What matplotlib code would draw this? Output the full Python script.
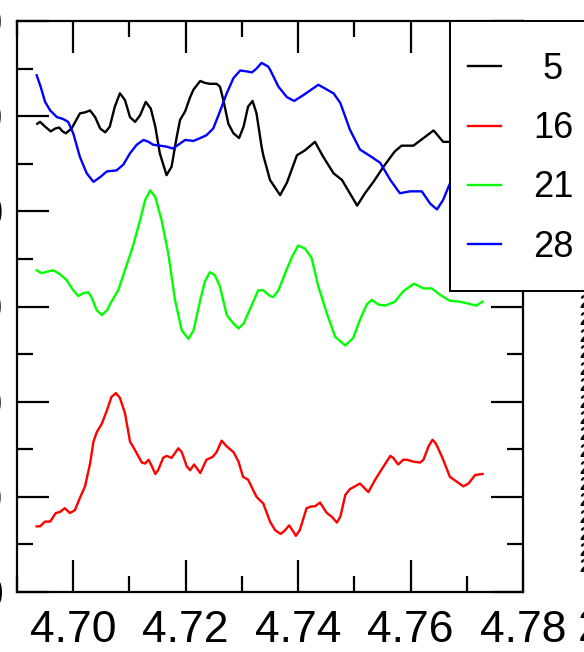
import numpy as np
import matplotlib
matplotlib.use("Agg")
import matplotlib.pyplot as plt
from matplotlib.ticker import MultipleLocator
from matplotlib.patches import Rectangle

plt.rcParams["font.family"] = ["Liberation Sans", "DejaVu Sans"]

# series 5 (black)
x5 = [4.6936, 4.6941, 4.6950, 4.6960, 4.6968, 4.6975, 4.6981, 4.6987, 4.6997, 4.7012,
      4.7021, 4.7030, 4.7039, 4.7048, 4.7057, 4.7065, 4.7074, 4.7083, 4.7092, 4.7101,
      4.7110, 4.7119, 4.7129, 4.7138, 4.7146, 4.7154, 4.7166, 4.7175, 4.7184, 4.7190,
      4.7199, 4.7208, 4.7214, 4.7226, 4.7234, 4.7243, 4.7255, 4.7261, 4.7267, 4.7276,
      4.7285, 4.7295, 4.7303, 4.7311, 4.7319, 4.7326, 4.7335, 4.7338, 4.7350, 4.7368,
      4.7380, 4.7398, 4.7412, 4.7430, 4.7445, 4.7463, 4.7478, 4.7492, 4.7505, 4.7519,
      4.7534, 4.7552, 4.7572, 4.7584, 4.7605, 4.7623, 4.7641, 4.7658, 4.7669, 4.7688,
      4.7709, 4.7729]
y5 = [49.2, 49.4, 48.9, 48.4, 48.7, 48.8, 48.4, 48.2, 48.7, 50.3,
      50.4, 50.6, 49.9, 48.7, 48.3, 48.9, 51.0, 52.4, 51.7, 49.9,
      49.4, 50.1, 51.5, 50.8, 48.9, 46.1, 43.8, 44.7, 47.8, 49.6,
      50.5, 52.0, 52.8, 53.7, 53.5, 53.4, 53.4, 53.1, 51.7, 49.2,
      48.2, 47.7, 48.9, 51.0, 51.6, 50.3, 46.8, 45.9, 43.3, 41.7,
      43.0, 45.9, 46.4, 47.3, 45.7, 44.0, 43.3, 41.9, 40.6, 41.9,
      43.1, 44.7, 46.3, 46.9, 46.9, 47.7, 48.5, 47.3, 47.3, 47.0,
      47.8, 47.4]

# series 16 (red)
x16 = [4.6935, 4.6941, 4.6950, 4.6959, 4.6969, 4.6976, 4.6985, 4.6994, 4.7003, 4.7012,
       4.7021, 4.7030, 4.7036, 4.7042, 4.7051, 4.7060, 4.7068, 4.7076, 4.7083, 4.7092,
       4.7101, 4.7110, 4.7122, 4.7128, 4.7134, 4.7140, 4.7146, 4.7151, 4.7160, 4.7166,
       4.7175, 4.7187, 4.7193, 4.7202, 4.7208, 4.7215, 4.7226, 4.7237, 4.7248, 4.7255,
       4.7264, 4.7273, 4.7285, 4.7294, 4.7302, 4.7311, 4.7326, 4.7338, 4.7350, 4.7359,
       4.7369, 4.7377, 4.7384, 4.7392, 4.7396, 4.7403, 4.7415, 4.7424, 4.7430, 4.7439,
       4.7451, 4.7460, 4.7469, 4.7475, 4.7484, 4.7492, 4.7501, 4.7510, 4.7525, 4.7537,
       4.7552, 4.7564, 4.7569, 4.7578, 4.7587, 4.7593, 4.7605, 4.7617, 4.7623, 4.7632,
       4.7639, 4.7645, 4.7656, 4.7670, 4.7682, 4.7694, 4.7703, 4.7715, 4.7728]
y16 = [6.9, 6.9, 7.4, 7.4, 8.3, 8.4, 8.8, 8.3, 8.6, 9.9,
       11.1, 13.5, 15.8, 16.8, 17.7, 19.1, 20.5, 20.9, 20.4, 18.8,
       15.8, 14.9, 13.6, 13.5, 13.9, 13.2, 12.4, 12.8, 14.1, 14.3,
       14.1, 15.1, 14.7, 13.2, 12.8, 13.4, 12.5, 13.9, 14.2, 14.7,
       15.9, 15.3, 14.7, 13.7, 12.1, 11.8, 10.0, 9.3, 7.4, 6.5,
       6.1, 6.5, 7.0, 6.3, 5.9, 6.5, 8.8, 9.0, 9.0, 9.4,
       8.3, 7.9, 7.3, 7.9, 10.2, 10.8, 11.1, 11.4, 10.5, 11.8,
       13.2, 14.3, 14.1, 13.4, 13.9, 13.9, 13.7, 13.6, 13.9, 15.3,
       16.0, 15.6, 14.2, 12.1, 11.6, 11.1, 11.4, 12.3, 12.4]

# series 21 (green)
x21 = [4.6935, 4.6944, 4.6956, 4.6965, 4.6976, 4.6988, 4.7000, 4.7009, 4.7018, 4.7027,
       4.7033, 4.7042, 4.7051, 4.7060, 4.7068, 4.7080, 4.7092, 4.7107, 4.7119, 4.7128,
       4.7137, 4.7146, 4.7157, 4.7169, 4.7181, 4.7193, 4.7205, 4.7214, 4.7226, 4.7234,
       4.7243, 4.7252, 4.7261, 4.7273, 4.7285, 4.7294, 4.7303, 4.7315, 4.7329, 4.7338,
       4.7350, 4.7356, 4.7365, 4.7377, 4.7389, 4.7400, 4.7412, 4.7424, 4.7436, 4.7451,
       4.7466, 4.7484, 4.7498, 4.7510, 4.7522, 4.7531, 4.7543, 4.7555, 4.7572, 4.7587,
       4.7606, 4.7623, 4.7638, 4.7653, 4.7670, 4.7688, 4.7703, 4.7717, 4.7728]
y21 = [33.8, 33.5, 33.7, 33.8, 33.4, 32.8, 31.7, 31.1, 31.4, 31.5,
       30.9, 29.6, 29.1, 29.6, 30.5, 31.7, 33.8, 36.5, 39.1, 41.2,
       42.2, 41.5, 39.1, 35.6, 30.7, 27.5, 26.6, 27.5, 30.7, 32.6,
       33.6, 33.3, 32.1, 29.1, 28.2, 27.7, 28.2, 29.8, 31.7, 31.7,
       31.1, 31.0, 31.7, 33.5, 35.2, 36.4, 36.1, 35.1, 32.1, 29.3,
       26.8, 25.9, 26.7, 28.6, 30.2, 30.7, 30.2, 30.1, 30.5, 31.6,
       32.4, 31.9, 31.9, 31.2, 30.6, 30.5, 30.3, 30.1, 30.5]

# series 28 (blue)
x28 = [4.6935, 4.6942, 4.6950, 4.6959, 4.6971, 4.6982, 4.6991, 4.7000, 4.7012, 4.7024,
       4.7036, 4.7048, 4.7060, 4.7077, 4.7089, 4.7101, 4.7113, 4.7125, 4.7134, 4.7142,
       4.7154, 4.7166, 4.7177, 4.7187, 4.7199, 4.7214, 4.7226, 4.7237, 4.7249, 4.7261,
       4.7273, 4.7285, 4.7297, 4.7309, 4.7318, 4.7326, 4.7335, 4.7347, 4.7350, 4.7365,
       4.7380, 4.7393, 4.7409, 4.7436, 4.7463, 4.7475, 4.7492, 4.7510, 4.7531, 4.7546,
       4.7564, 4.7581, 4.7599, 4.7620, 4.7635, 4.7647, 4.7658, 4.7669, 4.7688, 4.7709,
       4.7729]
y28 = [54.3, 53.1, 51.5, 50.6, 49.9, 49.7, 49.4, 48.2, 45.7, 44.0,
       43.1, 43.6, 44.2, 44.3, 44.9, 46.1, 47.0, 47.5, 47.3, 47.0,
       46.9, 46.8, 46.6, 47.0, 47.5, 47.4, 47.7, 48.0, 48.7, 50.5,
       52.4, 54.0, 54.8, 54.7, 54.6, 55.0, 55.6, 55.2, 54.9, 53.1,
       52.0, 51.6, 52.2, 53.3, 52.4, 51.4, 48.6, 46.5, 45.7, 45.1,
       43.3, 41.9, 42.1, 42.1, 40.8, 40.2, 41.2, 42.8, 44.5, 45.0,
       44.6]

series = [("5", x5, y5, "black"), ("16", x16, y16, "red"),
          ("21", x21, y21, "#00ff00"), ("28", x28, y28, "blue")]
legend_labels = [" 5", "16", "21", "28"]

fig = plt.figure(figsize=(5.84, 6.52), dpi=100)
ax = fig.add_axes([17/584, 60/652, 506/584, 571/652])

for (name, xs, ys, col), lab in zip(series, legend_labels):
    ax.plot(xs, ys, color=col, lw=1.7, label=lab)

ax.set_xlim(4.69, 4.78)
ax.set_ylim(0, 60)
ax.xaxis.set_major_locator(MultipleLocator(0.02))
ax.xaxis.set_minor_locator(MultipleLocator(0.01))
ax.yaxis.set_major_locator(MultipleLocator(10))
ax.yaxis.set_minor_locator(MultipleLocator(5))
ax.xaxis.set_major_formatter(matplotlib.ticker.FormatStrFormatter("%.2f"))
ax.tick_params(which="both", direction="in", top=True, right=True, width=1.6,
               labelsize=32)
ax.tick_params(axis="x", pad=13)
ax.tick_params(axis="y", pad=10)
ax.tick_params(which="major", length=23)
ax.tick_params(which="minor", length=11.5)
for s in ax.spines.values():
    s.set_linewidth(1.6)

# legend box: frame drawn separately so entries can sit where they do in the original
box = Rectangle((450/584, 1 - 291/652), 0.3, 270/652, transform=fig.transFigure,
                facecolor="white", edgecolor="black", lw=1.4, clip_on=False, zorder=4)
ax.add_patch(box)
leg = ax.legend(loc="upper left", bbox_to_anchor=(468/584, 1 - 52/652),
                bbox_transform=fig.transFigure, fontsize=26, frameon=False,
                borderaxespad=0, borderpad=0, handlelength=0.9,
                handletextpad=0.9, labelspacing=0.67)
leg.set_zorder(5)

# bits of the neighbouring panel cut off at the right edge
fig.text(578/584, 1 - 609/652, "2", fontsize=32, ha="left", va="top")
for k in range(17):
    fig.text(579/584, 1 - (304 + 16.5*k)/652, "2", fontsize=13, ha="left",
             va="center", fontweight="bold")

fig.savefig("out.png", dpi=100)
